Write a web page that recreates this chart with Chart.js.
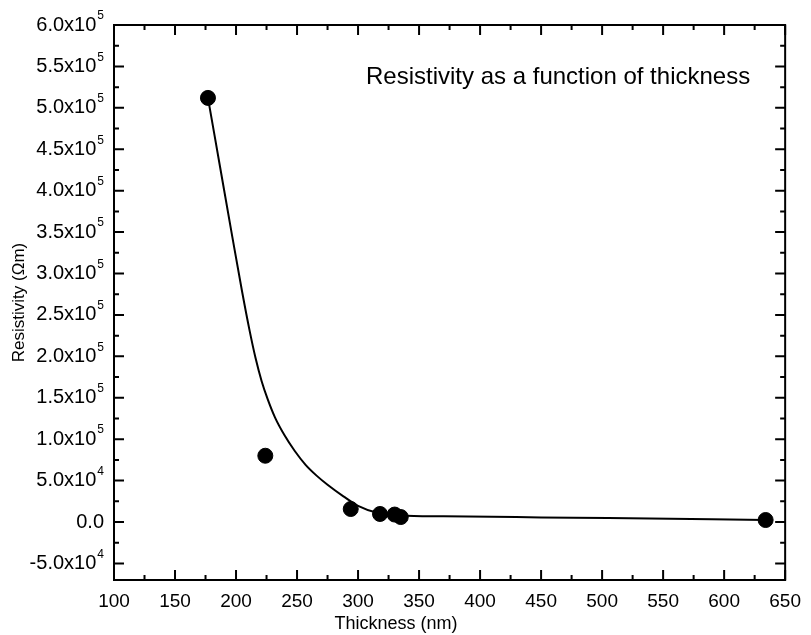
<!DOCTYPE html>
<html>
<head>
<meta charset="utf-8">
<script src="https://cdn.jsdelivr.net/npm/chart.js@4.4.0/dist/chart.umd.min.js"></script>
<style>
  html, body { margin: 0; padding: 0; background: #fff; }
</style>
</head>
<body>
<canvas id="resChart" width="811" height="635"></canvas>
<script>
// measured points (thickness in nm, resistivity in Ohm m)
const thickness = [177, 224, 294, 318, 330, 335, 634];
const resistivity = [512000, 80000, 15700, 9700, 9000, 6000, 2400];

// fitted curve
const fitThickness = [177, 187, 197, 205, 211, 216, 221, 226, 232, 240, 248, 257, 266, 275, 288, 300, 315, 335, 370, 450, 505, 634];
const fitResistivity = [512000, 428000, 344000, 278000, 232000, 198000, 170000, 148000, 126000, 104000, 86000, 69000, 56000, 45000, 31000, 19500, 11500, 8000, 6900, 5600, 4800, 2500];

// axis ticks
const xTicks = [100, 150, 200, 250, 300, 350, 400, 450, 500, 550, 600, 650];
const xMinorTicks = [125, 175, 225, 275, 325, 375, 425, 475, 525, 575, 625];
const yTicks = [-50000, 0, 50000, 100000, 150000, 200000, 250000, 300000, 350000, 400000, 450000, 500000, 550000, 600000];
const yMinorTicks = [-25000, 25000, 75000, 125000, 175000, 225000, 275000, 325000, 375000, 425000, 475000, 525000, 575000];

const FONT = "'Liberation Sans', Arial, sans-serif";

// split a value into "6.0x10" and the exponent "5"
function sciParts(v) {
  if (v === 0) return ["0.0", ""];
  const exp = Math.floor(Math.log10(Math.abs(v)));
  const mant = v / Math.pow(10, exp);
  return [mant.toFixed(1) + "x10", String(exp)];
}

// frame, inward ticks on all four sides, y labels with superscripts, loose texts
const frameTicks = {
  id: "frameTicks",
  afterDraw(chart) {
    const { ctx, chartArea: a, scales: { x, y } } = chart;
    ctx.save();
    ctx.strokeStyle = "#000";
    ctx.lineWidth = 2;
    ctx.strokeRect(a.left, a.top, a.right - a.left, a.bottom - a.top);

    ctx.beginPath();
    const tickX = (v, len) => {
      const px = x.getPixelForValue(v);
      ctx.moveTo(px, a.bottom); ctx.lineTo(px, a.bottom - len);
      ctx.moveTo(px, a.top); ctx.lineTo(px, a.top + len);
    };
    const tickY = (v, len) => {
      const py = y.getPixelForValue(v);
      ctx.moveTo(a.left, py); ctx.lineTo(a.left + len, py);
      ctx.moveTo(a.right, py); ctx.lineTo(a.right - len, py);
    };
    xTicks.forEach(v => tickX(v, 10));
    xMinorTicks.forEach(v => tickX(v, 5));
    yTicks.forEach(v => tickY(v, 10));
    yMinorTicks.forEach(v => tickY(v, 5));
    ctx.stroke();

    ctx.fillStyle = "#000";
    ctx.textBaseline = "middle";
    const labelRight = a.left - 10;
    yTicks.forEach(v => {
      const py = y.getPixelForValue(v);
      const [base, sup] = sciParts(v);
      ctx.font = "12px " + FONT;
      const sw = sup ? ctx.measureText(sup).width + 1 : 0;
      ctx.font = "20px " + FONT;
      ctx.textAlign = "right";
      ctx.fillText(base, labelRight - sw, py);
      if (sup) {
        ctx.font = "12px " + FONT;
        ctx.textAlign = "left";
        ctx.fillText(sup, labelRight - sw + 1, py - 9);
      }
    });

    ctx.font = "18px " + FONT;
    ctx.textAlign = "center";
    ctx.fillText("Thickness (nm)", 396, 624);

    ctx.font = "24px " + FONT;
    ctx.textAlign = "left";
    ctx.fillText("Resistivity as a function of thickness", 366, 77);
    ctx.restore();
  }
};

const ctx = document.getElementById("resChart").getContext("2d");
new Chart(ctx, {
  type: "scatter",
  data: {
    datasets: [
      {
        label: "Fit",
        data: fitThickness.map((t, i) => ({ x: t, y: fitResistivity[i] })),
        showLine: true,
        borderColor: "#000",
        borderWidth: 2,
        pointRadius: 0,
        cubicInterpolationMode: "monotone",
        order: 2,
      },
      {
        label: "Measured",
        data: thickness.map((t, i) => ({ x: t, y: resistivity[i] })),
        backgroundColor: "#000",
        borderColor: "#000",
        pointRadius: 7.5,
        order: 1,
      },
    ],
  },
  options: {
    responsive: false,
    animation: false,
    layout: { padding: { top: 25, right: 20, left: 0, bottom: 0 } },
    plugins: {
      legend: { display: false },
      tooltip: { enabled: false },
    },
    scales: {
      x: {
        type: "linear",
        min: 100,
        max: 650,
        grid: { display: false, drawTicks: false },
        border: { display: false },
        afterBuildTicks: (s) => { s.ticks = xTicks.map(v => ({ value: v })); },
        afterFit: (s) => { s.height = 55; },
        ticks: {
          color: "#000",
          font: { family: FONT, size: 19 },
          padding: 10,
          maxRotation: 0,
          autoSkip: false,
        },
      },
      y: {
        type: "linear",
        min: -70000,
        max: 600000,
        grid: { display: false, drawTicks: false },
        border: { display: false },
        afterBuildTicks: (s) => { s.ticks = yTicks.map(v => ({ value: v })); },
        afterFit: (s) => { s.width = 114; },
        ticks: { display: false },
        title: {
          display: true,
          text: "Resistivity (\u03A9m)",
          color: "#000",
          font: { family: FONT, size: 17 },
          padding: { top: 9, bottom: 0 },
        },
      },
    },
  },
  plugins: [frameTicks],
});
</script>
</body>
</html>
